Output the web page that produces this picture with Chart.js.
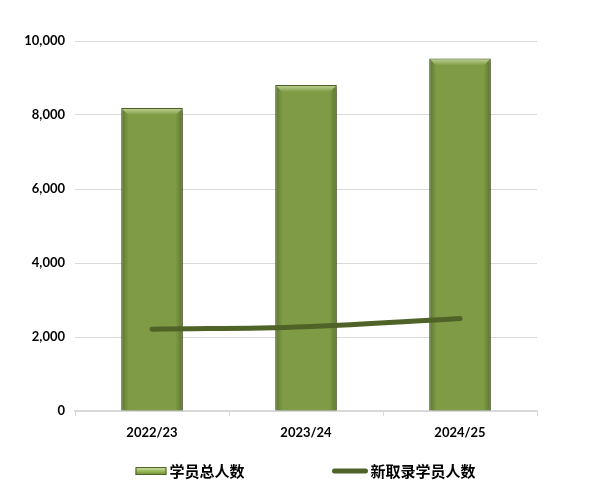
<!DOCTYPE html>
<html><head><meta charset="utf-8">
<script src="https://cdn.jsdelivr.net/npm/chart.js@4/dist/chart.umd.min.js"></script>
<style>html,body{margin:0;padding:0;background:#fff}#wrap{width:598px;height:501px}</style>
</head><body><div id="wrap"><canvas id="c" width="598" height="501"></canvas></div>
<script>
const categories = ['2022/23', '2023/24', '2024/25'];
const totalStudents = [8190, 8810, 9530];
const newStudents = [2210, 2280, 2500];
const seriesNames = ['学员总人数', '新取录学员人数'];
const yMin = 0, yMax = 10000, yStep = 2000;

const barFill = '#7F9B45', barDark = '#5C7530', barEdge = '#4F6228', lineColor = '#4F6228';

const barStyle = {
  id: 'barStyle',
  beforeDatasetDraw(chart, args) {
    if (args.index !== 0) return;
    const ctx = chart.ctx;
    ctx.save();
    ctx.shadowColor = 'rgba(0,0,0,0.35)';
    ctx.shadowBlur = 4;
    ctx.shadowOffsetX = 2;
    ctx.shadowOffsetY = 2;
  },
  afterDatasetDraw(chart, args) {
    const ctx = chart.ctx;
    if (args.index !== 0) return;
    ctx.restore();
    args.meta.data.forEach(b => {
      const l = b.x - b.width / 2, r = b.x + b.width / 2, t = b.y;
      const g = ctx.createLinearGradient(0, t, 0, t + 7);
      g.addColorStop(0, '#C3D69B');
      g.addColorStop(1, barFill);
      ctx.save();
      ctx.beginPath();
      ctx.moveTo(l + 1, t + 1);
      ctx.lineTo(r - 1, t + 1);
      ctx.lineTo(r - 7, t + 7);
      ctx.lineTo(l + 7, t + 7);
      ctx.closePath();
      ctx.fillStyle = g;
      ctx.fill();
      ctx.restore();
    });
  }
};

function barGradient(c) {
  const chart = c.chart;
  const area = chart.chartArea;
  if (!area) return barFill;
  const xs = chart.scales.x;
  const cx = xs.getPixelForValue(c.dataIndex);
  const half = (xs.width / categories.length) * 0.40 / 2;
  const g = chart.ctx.createLinearGradient(cx - half, 0, cx + half, 0);
  g.addColorStop(0, barDark);
  g.addColorStop(0.12, barFill);
  g.addColorStop(0.88, barFill);
  g.addColorStop(1, barDark);
  return g;
}

const customLegend = {
  id: 'customLegend',
  afterDraw(chart) {
    const ctx = chart.ctx;
    ctx.save();
    ctx.font = 'bold 15px "Noto Sans CJK SC"';
    ctx.textBaseline = 'middle';
    ctx.textAlign = 'left';
    const w1 = 31, w2 = 37, gapIcon = 3, gapItems = 87;
    const t1 = ctx.measureText(chart.data.datasets[0].label).width;
    const t2 = ctx.measureText(chart.data.datasets[1].label).width;
    const total = w1 + gapIcon + t1 + gapItems + w2 + gapIcon + t2;
    const cx = (chart.chartArea.left + chart.chartArea.right) / 2;
    let x = cx - total / 2;
    const y = 471;
    const g = ctx.createLinearGradient(0, y - 4, 0, y + 4);
    g.addColorStop(0, '#D7E4BD');
    g.addColorStop(0.5, '#9BBB59');
    g.addColorStop(1, '#6E8A36');
    ctx.fillStyle = g;
    ctx.fillRect(x, y - 4, w1, 8);
    ctx.strokeStyle = barEdge;
    ctx.lineWidth = 1;
    ctx.strokeRect(x + 0.5, y - 3.5, w1 - 1, 7);
    x += w1 + gapIcon;
    ctx.fillStyle = '#000';
    ctx.fillText(chart.data.datasets[0].label, x, y);
    x += t1 + gapItems;
    ctx.strokeStyle = lineColor;
    ctx.lineWidth = 5;
    ctx.lineCap = 'round';
    ctx.beginPath();
    ctx.moveTo(x + 3, y);
    ctx.lineTo(x + w2 - 3, y);
    ctx.stroke();
    x += w2 + gapIcon - 1;
    ctx.fillText(chart.data.datasets[1].label, x, y);
    ctx.restore();
  }
};

new Chart(document.getElementById('c'), {
  data: {
    labels: categories,
    datasets: [
      {
        type: 'bar',
        label: seriesNames[0],
        data: totalStudents,
        backgroundColor: barGradient,
        borderColor: barEdge,
        borderWidth: 1,
        barPercentage: 0.40,
        categoryPercentage: 1.0,
        order: 2
      },
      {
        type: 'line',
        label: seriesNames[1],
        data: newStudents,
        borderColor: lineColor,
        borderWidth: 5,
        borderCapStyle: 'round',
        tension: 0.4,
        pointRadius: 0,
        order: 1
      }
    ]
  },
  options: {
    responsive: false,
    animation: false,
    devicePixelRatio: 1,
    layout: { padding: { left: 0, right: 61, top: 41, bottom: 50 } },
    plugins: { legend: { display: false }, tooltip: { enabled: false } },
    scales: {
      x: {
        offset: true,
        grid: { offset: true, drawOnChartArea: false, tickLength: 5, color: '#D9D9D9', lineWidth: 1 },
        border: { color: '#D9D9D9', width: 2 },
        ticks: { color: '#000', font: { family: 'Lato', weight: 'bold', size: 13 }, padding: 9 },
        afterFit(s) { s.height = 40; }
      },
      y: {
        min: yMin, max: yMax,
        grid: { color: '#D9D9D9', drawTicks: false },
        border: { display: false },
        ticks: {
          stepSize: yStep, padding: 10, color: '#000',
          font: { family: 'Lato', weight: 'bold', size: 13 },
          callback: v => v.toLocaleString('en-US')
        },
        afterFit(s) { s.width = 75; }
      }
    }
  },
  plugins: [barStyle, customLegend]
});
</script>
</body></html>
